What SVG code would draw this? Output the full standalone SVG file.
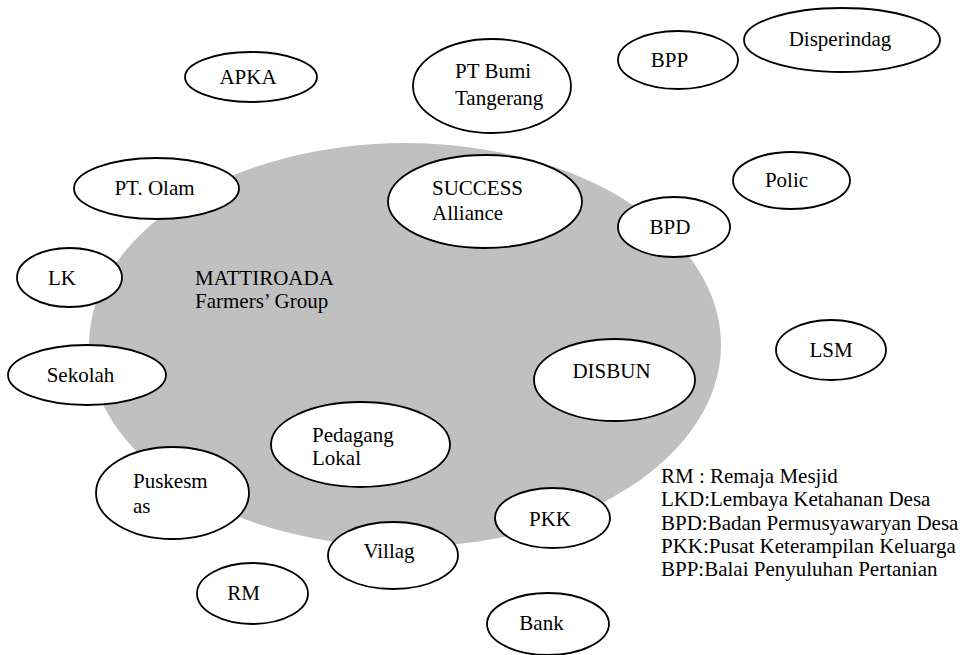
<svg xmlns="http://www.w3.org/2000/svg" width="965" height="655" viewBox="0 0 965 655" font-family="'Liberation Serif', 'Times New Roman', Times, serif" font-size="21">
  <style>
    text { font-family: 'Liberation Serif', 'Times New Roman', Times, serif; font-size: 21px; fill: #000; }
    .c { text-anchor: middle; }
    .node ellipse { fill: #fff; stroke: #000; stroke-width: 1.8; }
    .group { fill: #c0c0c0; }
  </style>
  <rect width="965" height="655" fill="#fff"/>

  <!-- farmers' group area -->
  <g id="mattiroada">
    <ellipse class="group" cx="405" cy="345" rx="316" ry="202"/>
    <text x="195" y="285">MATTIROADA</text>
    <text x="195" y="308">Farmers’ Group</text>
  </g>

  <!-- no connectors are drawn between the actors -->
  <g id="connectors"/>

  <g id="apka" class="node">
    <ellipse cx="251" cy="77" rx="66" ry="25"/>
    <text class="c" x="248" y="84">APKA</text>
  </g>
  <g id="pt-bumi" class="node">
    <ellipse cx="492" cy="86" rx="79" ry="47"/>
    <text x="455" y="78">PT Bumi</text>
    <text x="455" y="105">Tangerang</text>
  </g>
  <g id="bpp" class="node">
    <ellipse cx="678" cy="60" rx="60" ry="29"/>
    <text class="c" x="669.5" y="67">BPP</text>
  </g>
  <g id="disperindag" class="node">
    <ellipse cx="842" cy="40" rx="98" ry="32"/>
    <text class="c" x="840" y="46">Disperindag</text>
  </g>
  <g id="pt-olam" class="node">
    <ellipse cx="156.5" cy="188.5" rx="82.5" ry="30.5"/>
    <text class="c" x="154.5" y="195">PT. Olam</text>
  </g>
  <g id="success" class="node">
    <ellipse cx="485" cy="201.5" rx="97" ry="46.5"/>
    <text x="432" y="195">SUCCESS</text>
    <text x="432" y="220">Alliance</text>
  </g>
  <g id="bpd" class="node">
    <ellipse cx="674" cy="227" rx="56" ry="30"/>
    <text class="c" x="670" y="234">BPD</text>
  </g>
  <g id="polic" class="node">
    <ellipse cx="791.5" cy="180.5" rx="58.5" ry="28.5"/>
    <text class="c" x="786.5" y="187">Polic</text>
  </g>
  <g id="lk" class="node">
    <ellipse cx="69.5" cy="277.5" rx="52.5" ry="29.5"/>
    <text class="c" x="62" y="285">LK</text>
  </g>
  <g id="sekolah" class="node">
    <ellipse cx="87" cy="375" rx="79" ry="30"/>
    <text class="c" x="80.5" y="382">Sekolah</text>
  </g>
  <g id="lsm" class="node">
    <ellipse cx="831" cy="350" rx="55" ry="30"/>
    <text class="c" x="831" y="357">LSM</text>
  </g>
  <g id="disbun" class="node">
    <ellipse cx="614.5" cy="380" rx="80.5" ry="41"/>
    <text class="c" x="611.5" y="378">DISBUN</text>
  </g>
  <g id="pedagang" class="node">
    <ellipse cx="360.5" cy="444.5" rx="89.5" ry="42.5"/>
    <text x="312" y="442">Pedagang</text>
    <text x="312" y="465">Lokal</text>
  </g>
  <g id="puskesmas" class="node">
    <ellipse cx="172.5" cy="493" rx="76.5" ry="46"/>
    <text x="133" y="488">Puskesm</text>
    <text x="133" y="513">as</text>
  </g>
  <g id="village" class="node">
    <ellipse cx="393" cy="555.5" rx="65" ry="33.5"/>
    <text class="c" x="389" y="558">Villag</text>
  </g>
  <g id="rm" class="node">
    <ellipse cx="252.5" cy="593.5" rx="55.5" ry="30.5"/>
    <text class="c" x="243.5" y="600">RM</text>
  </g>
  <g id="pkk" class="node">
    <ellipse cx="552.5" cy="518" rx="57.5" ry="30"/>
    <text class="c" x="550" y="526">PKK</text>
  </g>
  <g id="bank" class="node">
    <ellipse cx="548" cy="624" rx="61" ry="31"/>
    <text class="c" x="541.5" y="630">Bank</text>
  </g>

  <!-- abbreviations -->
  <g id="legend">
    <text x="661" y="483">RM : Remaja Mesjid</text>
    <text x="661" y="506">LKD:Lembaya Ketahanan Desa</text>
    <text x="661" y="530">BPD:Badan Permusyawaryan Desa</text>
    <text x="661" y="553">PKK:Pusat Keterampilan Keluarga</text>
    <text x="661" y="576">BPP:Balai Penyuluhan Pertanian</text>
  </g>
</svg>
